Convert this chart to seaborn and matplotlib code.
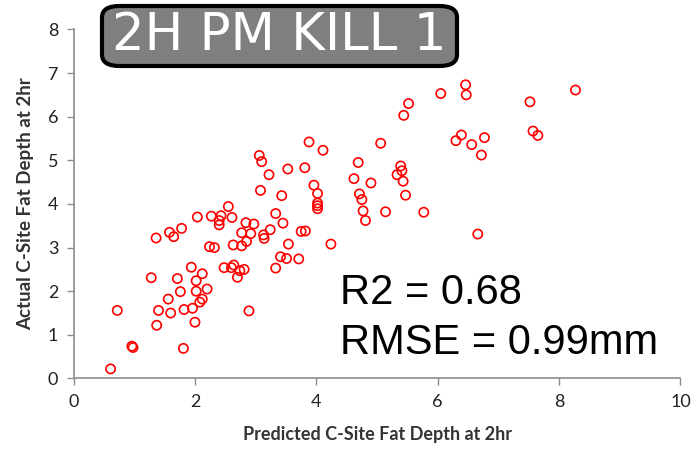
import matplotlib
matplotlib.use("Agg")
import matplotlib.pyplot as plt
from matplotlib.patches import FancyBboxPatch
import seaborn as sns
import pandas as pd

predicted = [0.61, 0.72, 0.96, 0.98, 1.28, 1.37, 1.40, 1.56, 1.60, 1.71, 1.76, 1.81, 1.82, 1.94, 1.96,
             2.00, 2.02, 2.02, 2.08, 2.12, 2.12, 2.20, 2.48, 2.60, 2.64, 2.70, 2.74, 2.81, 2.89,
             1.36, 1.58, 1.65, 1.78, 2.04, 2.24, 2.32, 2.27, 2.40, 2.40, 2.43, 2.55, 2.61, 2.63,
             2.77, 2.77, 2.84, 2.85, 2.92, 2.97, 3.88, 4.11, 5.06, 3.06, 3.10, 3.22, 3.53, 3.81,
             4.69, 4.62, 4.90, 5.39, 5.41, 5.33, 5.43, 5.47, 3.08, 3.43, 3.96, 4.02, 4.02, 4.02,
             4.02, 4.71, 4.75, 4.77, 4.81, 5.14, 3.33, 3.45, 3.13, 3.14, 3.24, 3.75, 3.82, 3.54,
             4.24, 3.41, 3.51, 3.71, 3.33, 6.46, 6.47, 6.05, 8.27, 7.52, 5.52, 5.44, 7.57, 7.65,
             6.39, 6.30, 6.56, 6.77, 6.72, 5.77, 6.66]
actual = [0.22, 1.56, 0.74, 0.71, 2.31, 1.22, 1.56, 1.82, 1.50, 2.29, 1.99, 0.69, 1.58, 2.55, 1.61,
          1.29, 2.24, 2.00, 1.75, 2.40, 1.82, 2.05, 2.54, 2.54, 2.60, 2.32, 2.47, 2.50, 1.55,
          3.22, 3.35, 3.25, 3.44, 3.70, 3.02, 3.00, 3.72, 3.62, 3.52, 3.73, 3.94, 3.69, 3.06,
          3.04, 3.34, 3.57, 3.14, 3.32, 3.54, 5.42, 5.23, 5.39, 5.11, 4.97, 4.67, 4.80, 4.83,
          4.95, 4.58, 4.48, 4.87, 4.76, 4.67, 4.52, 4.20, 4.31, 4.19, 4.43, 4.24, 4.02, 3.96,
          3.89, 4.23, 4.10, 3.84, 3.62, 3.82, 3.78, 3.56, 3.29, 3.21, 3.41, 3.37, 3.38, 3.08,
          3.08, 2.79, 2.75, 2.74, 2.53, 6.73, 6.50, 6.53, 6.61, 6.34, 6.30, 6.03, 5.67, 5.57,
          5.58, 5.45, 5.36, 5.52, 5.12, 3.81, 3.31]

x_ticks = [0, 2, 4, 6, 8, 10]
y_ticks = [0, 1, 2, 3, 4, 5, 6, 7, 8]
title_text = "2H PM KILL 1"
stats_text = ["R2 = 0.68", "RMSE = 0.99mm"]
x_label = "Predicted C-Site Fat Depth at 2hr"
y_label = "Actual C-Site Fat Depth at 2hr"

df = pd.DataFrame({"predicted": predicted, "actual": actual})

sns.set_theme(style="white")
plt.rcParams["font.family"] = ["Lato", "DejaVu Sans"]

fig = plt.figure(figsize=(6.96, 4.54), dpi=100)
ax = fig.add_axes([0.1057, 0.1663, 0.872, 0.769])

sns.scatterplot(data=df, x="predicted", y="actual", ax=ax, s=44,
                facecolor="none", edgecolor="#ff0000", linewidth=1.2, marker="o")

ax.set_xlim(0, 10)
ax.set_ylim(0, 8)
ax.set_xticks(x_ticks)
ax.set_yticks(y_ticks)
ax.set_xticklabels([str(v) for v in x_ticks])
ax.set_yticklabels([str(v) for v in y_ticks])
for s in ["top", "right"]:
    ax.spines[s].set_visible(False)
for s in ["left", "bottom"]:
    ax.spines[s].set_color("#8c8c8c")
    ax.spines[s].set_linewidth(1.2)
ax.tick_params(axis="both", which="both", direction="out", length=5, width=1.0,
               color="#8c8c8c", labelsize=13, labelcolor="#222222", pad=6)
ax.tick_params(axis="x", bottom=True)
ax.tick_params(axis="y", left=True)

ax.set_xlabel(x_label, fontsize=13, fontweight="bold", color="#333333", labelpad=12)
ax.set_ylabel(y_label, fontsize=13.5, fontweight="bold", color="#333333", labelpad=10)

ax.text(0.439, 0.213, stats_text[0], transform=ax.transAxes, fontsize=30,
        family=["Liberation Sans", "DejaVu Sans"], color="black", va="baseline")
ax.text(0.439, 0.070, stats_text[1], transform=ax.transAxes, fontsize=30,
        family=["Liberation Sans", "DejaVu Sans"], color="black", va="baseline")

# title box
bx0, by0 = 102 / 696, 1 - 66 / 454
bw, bh = 355 / 696, 60 / 454
box = FancyBboxPatch((bx0, by0), bw, bh, boxstyle="round,pad=0,rounding_size=0.025",
                     transform=fig.transFigure, facecolor="#7f7f7f", edgecolor="black",
                     linewidth=3, zorder=5)
fig.patches.append(box)
fig.text(bx0 + bw / 2, by0 + bh / 2, title_text, fontsize=37, color="white",
         ha="center", va="center", family=["DejaVu Sans"], zorder=6)

fig.savefig("out.png", dpi=100)
